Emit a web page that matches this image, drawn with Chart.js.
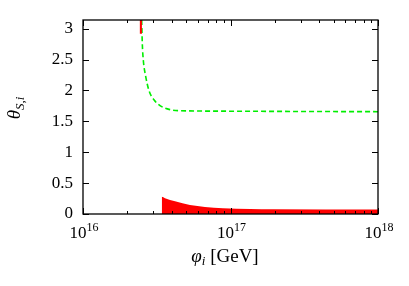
<!DOCTYPE html>
<html>
<head>
<meta charset="utf-8">
<script src="https://cdn.jsdelivr.net/npm/chart.js@4.4.1/dist/chart.umd.min.js"></script>
<style>
  html, body { margin: 0; padding: 0; background: #fff; }
  #wrap { width: 409px; height: 286px; }
</style>
</head>
<body>
<div id="wrap"><canvas id="chart" width="409" height="286"></canvas></div>
<script>
// green dashed curve
const greenX = [2.50e16, 2.523e16, 2.564e16, 2.661e16, 2.799e16, 3.027e16, 3.327e16, 3.89e16, 4.55e16, 1e17, 3.16e17, 1e18];
const greenY = [3.14, 2.77, 2.49, 2.23, 2.00, 1.85, 1.755, 1.69, 1.673, 1.665, 1.66, 1.657];

// red filled region near the bottom
const redX = [3.42e16, 3.42e16, 3.597e16, 4.207e16, 5.31e16, 6.71e16, 8.89e16, 1.356e17, 1.94e17, 1e18];
const redY = [0, 0.28, 0.255, 0.205, 0.146, 0.115, 0.093, 0.082, 0.076, 0.073];

// thin red strip at the top
const stripX = [2.42e16, 2.51e16];
const stripY = [2.92, 2.92];

const yTicks = [0, 0.5, 1, 1.5, 2, 2.5, 3];
const yTickLabels = ['0', '0.5', '1', '1.5', '2', '2.5', '3'];
const xMajor = [1e16, 1e17, 1e18];
const xMajorExp = ['16', '17', '18'];

const toPts = (xs, ys) => xs.map((x, i) => ({ x: x, y: ys[i] }));

const serif = '"Liberation Serif", "DejaVu Serif", serif';

function drawRich(ctx, parts, x, y) {
    // parts centered horizontally on x, baseline y
    let w = 0;
    parts.forEach(p => { ctx.font = p.font; w += ctx.measureText(p.t).width; });
    let cx = x - w / 2;
    parts.forEach(p => {
        ctx.font = p.font;
        ctx.fillText(p.t, cx, y + (p.dy || 0));
        cx += ctx.measureText(p.t).width;
    });
}

const framePlugin = {
    id: 'frame',
    afterDraw(chart) {
        const ctx = chart.ctx;
        const a = chart.chartArea;
        const xs = chart.scales.x, ys = chart.scales.y;
        ctx.save();
        ctx.strokeStyle = '#000';
        ctx.lineWidth = 1.3;
        ctx.strokeRect(a.left, a.top, a.right - a.left, a.bottom - a.top);

        ctx.lineWidth = 1;
        ctx.beginPath();
        yTicks.forEach(v => {
            const py = Math.round(ys.getPixelForValue(v)) + 0.5;
            ctx.moveTo(a.left, py); ctx.lineTo(a.left + 6, py);
            ctx.moveTo(a.right, py); ctx.lineTo(a.right - 6, py);
        });
        xMajor.forEach((v, i) => {
            const px = Math.round(xs.getPixelForValue(v)) + 0.5;
            ctx.moveTo(px, a.bottom); ctx.lineTo(px, a.bottom - 6);
            ctx.moveTo(px, a.top); ctx.lineTo(px, a.top + 6);
            if (i < xMajor.length - 1) {
                for (let m = 2; m <= 9; m++) {
                    const qx = Math.round(xs.getPixelForValue(v * m)) + 0.5;
                    ctx.moveTo(qx, a.bottom); ctx.lineTo(qx, a.bottom - 3);
                    ctx.moveTo(qx, a.top); ctx.lineTo(qx, a.top + 3);
                }
            }
        });
        ctx.stroke();

        ctx.fillStyle = '#000';
        ctx.textBaseline = 'middle';
        ctx.textAlign = 'right';
        ctx.font = '17px ' + serif;
        yTicks.forEach((v, i) => {
            ctx.fillText(yTickLabels[i], 73, ys.getPixelForValue(v));
        });

        ctx.textAlign = 'left';
        ctx.textBaseline = 'alphabetic';
        xMajor.forEach((v, i) => {
            drawRich(ctx, [
                { t: '10', font: '17px ' + serif },
                { t: xMajorExp[i], font: '12px ' + serif, dy: -7 }
            ], xs.getPixelForValue(v) + 1, 238);
        });

        drawRich(ctx, [
            { t: '\u03C6', font: 'italic 19px ' + serif },
            { t: 'i', font: 'italic 13px ' + serif, dy: 3 },
            { t: ' [GeV]', font: '19px ' + serif }
        ], 225, 262);

        ctx.translate(20, 108);
        ctx.rotate(-Math.PI / 2);
        drawRich(ctx, [
            { t: '\u03B8', font: 'italic 19px ' + serif },
            { t: 'S,i', font: 'italic 13px ' + serif, dy: 4 }
        ], 0, 0);
        ctx.restore();
    }
};

new Chart(document.getElementById('chart'), {
    type: 'line',
    data: {
        datasets: [
            {
                data: toPts(stripX, stripY),
                borderWidth: 0,
                borderColor: '#ff0000',
                backgroundColor: '#ff0000',
                pointRadius: 0,
                fill: 'end'
            },
            {
                data: toPts(redX, redY),
                borderWidth: 0,
                borderColor: '#ff0000',
                backgroundColor: '#ff0000',
                pointRadius: 0,
                cubicInterpolationMode: 'monotone',
                fill: 'origin'
            },
            {
                data: toPts(greenX, greenY),
                borderColor: '#00ee00',
                borderWidth: 1.6,
                borderDash: [5, 3],
                pointRadius: 0,
                cubicInterpolationMode: 'monotone',
                fill: false
            }
        ]
    },
    options: {
        responsive: false,
        animation: false,
        events: [],
        layout: { padding: { top: 20, right: 31, left: 0, bottom: 0 } },
        plugins: { legend: { display: false }, tooltip: { enabled: false } },
        scales: {
            x: {
                type: 'logarithmic',
                min: 1e16,
                max: 1e18,
                grid: { display: false },
                border: { display: false },
                ticks: { display: false },
                afterFit(s) { s.height = 72; }
            },
            y: {
                type: 'linear',
                min: 0,
                max: Math.PI,
                grid: { display: false },
                border: { display: false },
                ticks: { display: false },
                afterFit(s) { s.width = 83; }
            }
        }
    },
    plugins: [framePlugin]
});
</script>
</body>
</html>
